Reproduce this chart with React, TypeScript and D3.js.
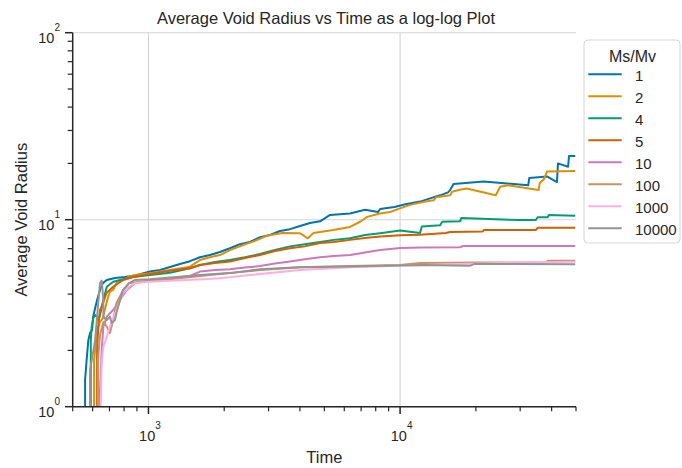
import React from "react";
import * as d3 from "d3";

const LABELS = ["1", "2", "4", "5", "10", "100", "1000", "10000"];
const COLORS = ["#0173b2", "#de8f05", "#029e73", "#d55e00", "#cc78bc", "#ca9161", "#fbafe4", "#949494"];
const TITLE = "Average Void Radius vs Time as a log-log Plot";
const X_LABEL = "Time";
const Y_LABEL = "Average Void Radius";
const LEGEND_TITLE = "Ms/Mv";
const X_DOMAIN = [500, 50000];
const Y_DOMAIN = [1, 100];

// [time, radius]
const S1: [number, number][] = [
  [560, 1.0], [560, 1.39], [568, 1.78], [577, 2.27], [586, 2.48], [597, 2.57], [603, 3.03], [614, 3.37],
  [625, 3.72], [642, 4.21], [659, 4.58], [683, 4.76], [736, 4.88], [807, 4.94], [886, 5.03], [1014, 5.29],
  [1111, 5.38], [1218, 5.58], [1334, 5.8], [1462, 6.0], [1602, 6.3], [1756, 6.47], [1924, 6.72], [2108, 7.04],
  [2311, 7.4], [2533, 7.6], [2775, 8.07], [3041, 8.28], [3333, 8.7], [3653, 8.9], [4003, 9.25], [4387, 9.6],
  [4808, 9.8], [5269, 10.6], [5774, 10.7], [6327, 10.8], [7250, 11.3], [8180, 11.0], [8328, 11.4], [9500, 11.7],
  [10500, 12.1], [12011, 12.5], [13162, 13.0], [14425, 13.5], [15500, 14.0], [15808, 14.4], [16300, 15.5],
  [21500, 16.0], [32300, 15.3], [32600, 16.7], [38500, 17.0], [42000, 15.9], [42400, 20.0], [46500, 19.2],
  [46900, 21.9], [49650, 21.9],
];
const S2: [number, number][] = [
  [608, 1.0], [608, 1.78], [624, 2.48], [633, 2.68], [642, 2.85], [659, 2.98], [681, 3.58], [692, 3.87],
  [703, 4.12], [724, 4.21], [746, 4.58], [793, 4.76], [838, 4.96], [885, 5.06], [1014, 5.17], [1218, 5.38],
  [1462, 5.61], [1602, 6.09], [1756, 6.3], [1924, 6.47], [2108, 6.88], [2380, 7.32], [2650, 7.7], [2950, 8.2],
  [3400, 8.5], [4003, 8.46], [4300, 7.95], [4530, 8.5], [5420, 8.8], [6327, 9.15], [6934, 9.75], [7400, 10.35],
  [8328, 10.8], [9126, 11.0], [10000, 11.5], [10960, 12.0], [12600, 12.5], [13600, 12.7], [13900, 13.2],
  [15808, 13.5], [16100, 14.1], [17100, 14.4], [18400, 14.7], [24000, 13.5], [24986, 15.0], [26800, 15.3],
  [35500, 14.4], [35900, 15.7], [37300, 16.5], [38400, 18.1], [49650, 18.2],
];
const S4: [number, number][] = [
  [590, 1.0], [590, 2.27], [595, 2.68], [604, 2.98], [614, 3.09], [624, 3.03], [633, 2.91], [642, 3.09],
  [652, 3.42], [662, 3.72], [683, 4.38], [724, 4.66], [793, 4.8], [885, 4.96], [1014, 5.06], [1218, 5.2],
  [1462, 5.5], [1602, 5.72], [1840, 5.94], [2108, 6.09], [2420, 6.3], [2775, 6.55], [3180, 6.88], [3653, 7.2],
  [4180, 7.4], [4808, 7.6], [5450, 7.8], [6327, 7.95], [7250, 8.28], [8328, 8.47], [10000, 8.75], [12000, 8.5],
  [12200, 9.2], [14425, 9.35], [14700, 9.76], [17324, 9.8], [17500, 10.2], [30000, 9.96], [34600, 9.96],
  [35200, 10.3], [38600, 10.3], [39000, 10.6], [49650, 10.5],
];
const S5: [number, number][] = [
  [625, 1.0], [625, 2.01], [633, 2.8], [642, 3.29], [652, 3.42], [681, 4.06], [724, 4.38], [793, 4.76],
  [885, 4.96], [1014, 5.13], [1218, 5.34], [1462, 5.5], [1602, 5.72], [1840, 5.87], [2108, 5.98], [2420, 6.24],
  [2775, 6.47], [3180, 6.8], [3653, 7.04], [4180, 7.2], [4808, 7.5], [5450, 7.6], [6327, 7.8], [7250, 7.98],
  [8328, 8.13], [10000, 8.25], [12000, 8.3], [15200, 8.5], [15808, 8.6], [21300, 8.65], [21500, 8.8],
  [34600, 8.8], [35200, 9.05], [49650, 9.05],
];
const S10: [number, number][] = [
  [638, 1.0], [652, 2.01], [662, 2.68], [683, 3.03], [724, 3.29], [771, 3.72], [820, 4.21], [885, 4.58],
  [1014, 4.72], [1218, 4.86], [1462, 5.0], [1602, 5.28], [1840, 5.38], [2108, 5.43], [2420, 5.55], [2775, 5.65],
  [3180, 5.83], [3653, 5.98], [4180, 6.15], [4808, 6.3], [5450, 6.4], [6327, 6.47], [7250, 6.67], [8328, 6.88],
  [10000, 7.05], [12000, 7.1], [17300, 7.12], [17800, 7.23], [49650, 7.23],
];
const S100: [number, number][] = [
  [630, 1.0], [630, 1.78], [642, 2.42], [662, 2.84], [683, 2.68], [703, 2.48], [724, 2.91], [746, 3.58],
  [793, 4.2], [838, 4.58], [925, 4.66], [1218, 4.8], [1602, 5.0], [2108, 5.18], [2775, 5.38], [4003, 5.56],
  [6327, 5.65], [10000, 5.72], [12000, 5.87], [20800, 5.9], [38000, 5.91], [38600, 6.03], [49650, 6.03],
];
const S1000: [number, number][] = [
  [646, 1.0], [652, 1.7], [662, 2.09], [683, 2.37], [703, 2.68], [746, 3.29], [793, 4.06], [838, 4.38],
  [885, 4.58], [1014, 4.66], [1218, 4.72], [1650, 4.8], [1924, 4.86], [2533, 5.06], [4003, 5.38], [6327, 5.56],
  [10000, 5.68], [17300, 5.8], [25000, 5.87], [49650, 5.95],
];
const S10000: [number, number][] = [
  [586, 1.0], [586, 1.57], [614, 2.27], [633, 3.72], [642, 4.58], [652, 4.72], [662, 3.72], [662, 3.03],
  [683, 2.91], [703, 3.03], [714, 2.8], [736, 2.91], [746, 3.17], [771, 3.72], [793, 4.21], [838, 4.58],
  [885, 4.76], [1014, 4.8], [1260, 4.93], [1602, 5.06], [2108, 5.18], [2775, 5.43], [4003, 5.57], [6327, 5.62],
  [12011, 5.72], [19000, 5.68], [19800, 5.8], [49650, 5.78],
];
const SERIES = [S1, S2, S4, S5, S10, S100, S1000, S10000];

const W = 682, H = 468;
const L = 72.7, R = 576, T = 32.7, B = 406.7;
const INK = "#262626";
const FONT = "'Liberation Sans', Arial, sans-serif";

export default function App() {
  const x = d3.scaleLog().domain(X_DOMAIN).range([L, R]);
  const y = d3.scaleLog().domain(Y_DOMAIN).range([B, T]);
  const line = d3.line<[number, number]>().x((d) => x(d[0])).y((d) => y(d[1]));
  const isMajor = (v: number) => Math.abs(Math.log10(v) - Math.round(Math.log10(v))) < 1e-9;
  const xTicks = x.ticks();
  const yTicks = y.ticks();

  return (
    <svg width={W} height={H} style={{ position: "absolute", left: 0, top: 0, background: "#fff" }} fontFamily={FONT}>
      <defs>
        <clipPath id="plotclip">
          <rect x={L} y={T} width={R - L} height={B - T} />
        </clipPath>
      </defs>
      {/* grid */}
      {xTicks.filter(isMajor).map((v) => (
        <line key={"gx" + v} x1={x(v)} x2={x(v)} y1={T} y2={B} stroke="#d4d4d4" strokeWidth={1.1} />
      ))}
      {yTicks.filter(isMajor).map((v) => (
        <line key={"gy" + v} x1={L} x2={R} y1={y(v)} y2={y(v)} stroke="#d4d4d4" strokeWidth={1.1} />
      ))}
      {/* lines */}
      <g clipPath="url(#plotclip)">
        {SERIES.map((s, i) => (
          <path key={i} d={line(s) || ""} fill="none" stroke={COLORS[i]} strokeWidth={2} strokeLinejoin="round" />
        ))}
      </g>
      {/* axes */}
      <line x1={L} x2={L} y1={T} y2={B} stroke={INK} strokeWidth={1.5} />
      <line x1={L} x2={R} y1={B} y2={B} stroke={INK} strokeWidth={1.5} />
      {xTicks.map((v) => (
        <line key={"tx" + v} x1={x(v)} x2={x(v)} y1={B} y2={B + (isMajor(v) ? 7.3 : 4.6)} stroke={INK} strokeWidth={isMajor(v) ? 1.5 : 1.2} />
      ))}
      {yTicks.map((v) => (
        <line key={"ty" + v} x1={L} x2={L - (isMajor(v) ? 7.7 : 5)} y1={y(v)} y2={y(v)} stroke={INK} strokeWidth={isMajor(v) ? 1.5 : 1.2} />
      ))}
      {xTicks.filter(isMajor).map((v) => (
        <text key={"lx" + v} x={x(v) + 1.5} y={441} textAnchor="middle" fill={INK} fontSize={14.5}>
          10<tspan dy={-12} fontSize={10}>{Math.round(Math.log10(v))}</tspan>
        </text>
      ))}
      {yTicks.filter(isMajor).map((v) => (
        <text key={"ly" + v} x={60} y={y(v) + 10.3} textAnchor="end" fill={INK} fontSize={14.5}>
          10<tspan dy={-11.8} fontSize={10}>{Math.round(Math.log10(v))}</tspan>
        </text>
      ))}
      {/* labels */}
      <text x={326} y={24} textAnchor="middle" fill={INK} fontSize={16.5}>{TITLE}</text>
      <text x={(L + R) / 2} y={462.5} textAnchor="middle" fill={INK} fontSize={16.5}>{X_LABEL}</text>
      <text transform={`translate(27,${(T + B) / 2}) rotate(-90)`} textAnchor="middle" fill={INK} fontSize={16.5}>{Y_LABEL}</text>
      {/* legend */}
      <rect x={584} y={40} width={96} height={203} rx={4} fill="#fff" fillOpacity={0.8} stroke="#d6d6d6" strokeWidth={1} />
      <text x={632.5} y={61.5} textAnchor="middle" fill={INK} fontSize={16}>{LEGEND_TITLE}</text>
      {LABELS.map((lab, i) => {
        const ly = 74.3 + i * 22.0;
        return (
          <g key={lab}>
            <line x1={588.3} x2={621.7} y1={ly} y2={ly} stroke={COLORS[i]} strokeWidth={2} />
            <text x={635} y={ly + 6.6} fill={INK} fontSize={15}>{lab}</text>
          </g>
        );
      })}
    </svg>
  );
}
